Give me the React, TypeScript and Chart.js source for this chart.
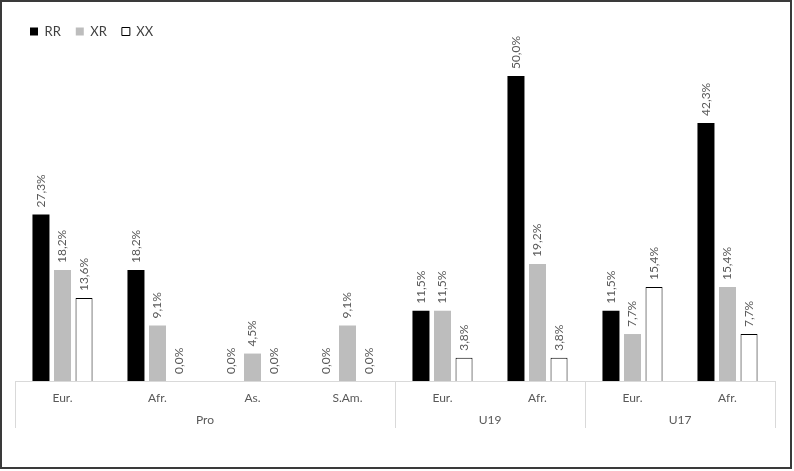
import React, { useEffect, useRef } from 'react';
import { Chart, registerables } from 'chart.js';

Chart.register(...registerables);

const categories = ['Eur.', 'Afr.', 'As.', 'S.Am.', 'Eur.', 'Afr.', 'Eur.', 'Afr.'];
const groups = ['Pro', 'Pro', 'Pro', 'Pro', 'U19', 'U19', 'U17', 'U17'];
const seriesNames = ['RR', 'XR', 'XX'];
const rrValues = [27.3, 18.2, 0.0, 0.0, 11.5, 50.0, 11.5, 42.3];
const xrValues = [18.2, 9.1, 4.5, 9.1, 11.5, 19.2, 7.7, 15.4];
const xxValues = [13.6, 0.0, 0.0, 0.0, 3.8, 3.8, 15.4, 7.7];
const yMax = 54.6;

const FONT = 'Lato, "Open Sans", "Noto Sans", sans-serif';
const TEXT = '#595959';
const LINE = '#d9d9d9';

const fmt = (v: number) => v.toFixed(1).replace('.', ',') + '%';

const labelsPlugin = {
  id: 'valueLabels',
  afterDatasetsDraw(chart: any) {
    const ctx = chart.ctx;
    ctx.save();
    ctx.font = `12px ${FONT}`;
    ctx.fillStyle = TEXT;
    ctx.textAlign = 'left';
    ctx.textBaseline = 'middle';
    chart.data.datasets.forEach((ds: any, di: number) => {
      const meta = chart.getDatasetMeta(di);
      meta.data.forEach((el: any, i: number) => {
        ctx.save();
        ctx.translate(el.x, el.y - 7);
        ctx.rotate(-Math.PI / 2);
        ctx.fillText(fmt(ds.data[i]), 0, 0);
        ctx.restore();
      });
    });
    ctx.restore();
  },
};

const axisPlugin = {
  id: 'multiAxis',
  afterDraw(chart: any) {
    const ctx = chart.ctx;
    const xs = chart.scales.x;
    const area = chart.chartArea;
    const n = categories.length;
    const w = (area.right - area.left) / n;
    const base = area.bottom;
    const bottomLine = base + 47;
    ctx.save();
    ctx.strokeStyle = LINE;
    ctx.lineWidth = 1;
    ctx.beginPath();
    ctx.moveTo(area.left, base + 0.5);
    ctx.lineTo(area.right, base + 0.5);
    const edges: number[] = [0];
    for (let i = 1; i < n; i++) if (groups[i] !== groups[i - 1]) edges.push(i);
    edges.push(n);
    edges.forEach((e) => {
      const x = Math.round(area.left + e * w) + 0.5;
      ctx.moveTo(x, base);
      ctx.lineTo(x, bottomLine);
    });
    ctx.stroke();
    ctx.font = `12px ${FONT}`;
    ctx.fillStyle = TEXT;
    ctx.textAlign = 'center';
    ctx.textBaseline = 'middle';
    categories.forEach((c, i) => {
      ctx.fillText(c, xs.getPixelForValue(i), base + 17);
    });
    for (let k = 0; k < edges.length - 1; k++) {
      const mid = area.left + ((edges[k] + edges[k + 1]) / 2) * w;
      ctx.fillText(groups[edges[k]], mid, base + 39);
    }
    ctx.restore();
  },
};

export default function App() {
  const ref = useRef<HTMLCanvasElement | null>(null);
  useEffect(() => {
    if (!ref.current) return;
    const chart = new Chart(ref.current, {
      type: 'bar',
      data: {
        labels: categories,
        datasets: [
          {
            label: seriesNames[0],
            data: rrValues,
            backgroundColor: '#000000',
            borderColor: '#000000',
            borderWidth: 0,
          },
          {
            label: seriesNames[1],
            data: xrValues,
            backgroundColor: '#bdbdbd',
            borderColor: '#bdbdbd',
            borderWidth: 0,
          },
          {
            label: seriesNames[2],
            data: xxValues,
            backgroundColor: '#ffffff',
            borderColor: '#000000',
            borderWidth: 1,
          },
        ],
      },
      options: {
        animation: false,
        responsive: false,
        maintainAspectRatio: false,
        datasets: { bar: { categoryPercentage: 0.68, barPercentage: 0.79 } },
        layout: { padding: { left: 15, right: 19, top: 10, bottom: 90 } },
        scales: {
          x: { display: false },
          y: { display: false, min: 0, max: yMax },
        },
        plugins: {
          legend: {
            display: true,
            position: 'top',
            align: 'start',
            labels: {
              boxWidth: 8,
              boxHeight: 8,
              padding: 15,
              color: '#404040',
              font: { family: FONT, size: 13 },
            },
          },
          tooltip: { enabled: false },
        },
      },
      plugins: [labelsPlugin, axisPlugin],
    });
    return () => chart.destroy();
  }, []);
  return (
    <div style={{ position: 'fixed', left: 0, top: 0, width: 794, height: 471, background: '#fff' }}>
      <canvas ref={ref} width={794} height={471} style={{ position: 'absolute', left: 0, top: 0 }} />
      <div
        style={{
          position: 'absolute',
          left: 0,
          top: 0,
          width: 788,
          height: 465,
          border: '2px solid #3a3a3a',
          pointerEvents: 'none',
        }}
      />
    </div>
  );
}
